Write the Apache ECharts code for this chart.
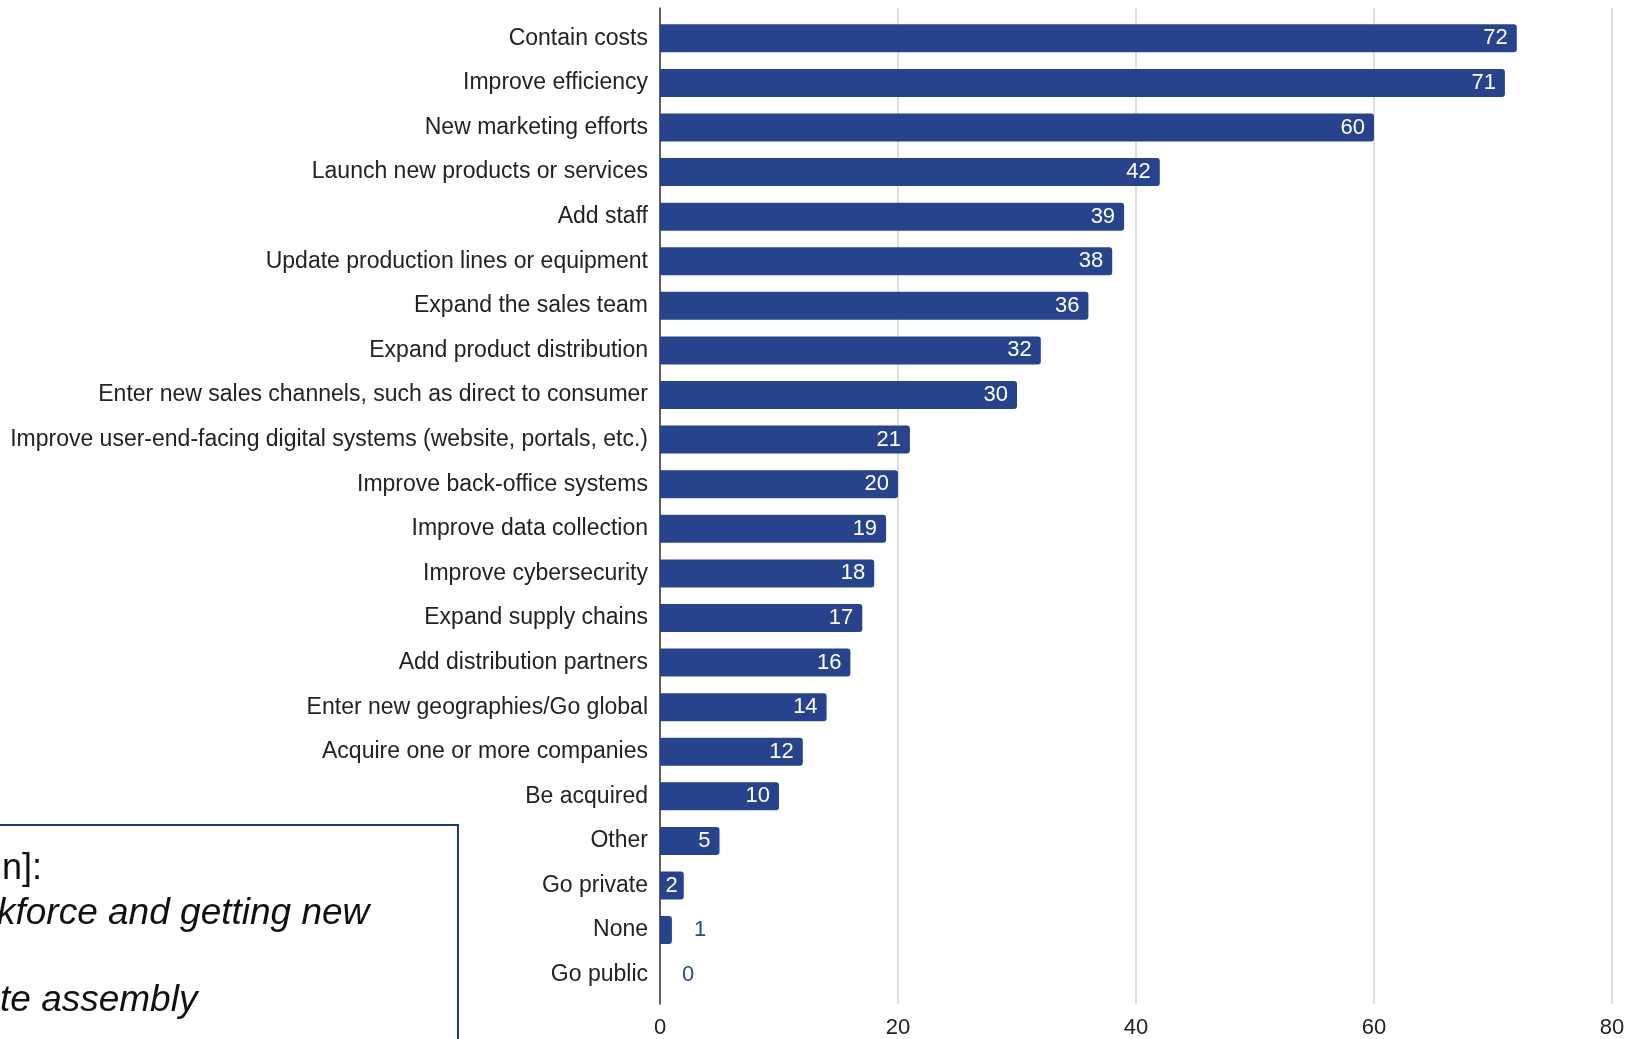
<!DOCTYPE html>
<html>
<head>
<meta charset="utf-8">
<style>
  html, body { margin: 0; padding: 0; background: #ffffff; }
  #chart { width: 1640px; height: 1039px; }
</style>
<script src="https://cdn.jsdelivr.net/npm/echarts@6/dist/echarts.min.js"></script>
</head>
<body>
<div id="chart"></div>
<script>
// Planned business actions, ranked by share of respondents
const categories = [
  'Contain costs',
  'Improve efficiency',
  'New marketing efforts',
  'Launch new products or services',
  'Add staff',
  'Update production lines or equipment',
  'Expand the sales team',
  'Expand product distribution',
  'Enter new sales channels, such as direct to consumer',
  'Improve user-end-facing digital systems (website, portals, etc.)',
  'Improve back-office systems',
  'Improve data collection',
  'Improve cybersecurity',
  'Expand supply chains',
  'Add distribution partners',
  'Enter new geographies/Go global',
  'Acquire one or more companies',
  'Be acquired',
  'Other',
  'Go private',
  'None',
  'Go public'
];
const values = [72, 71, 60, 42, 39, 38, 36, 32, 30, 21, 20, 19, 18, 17, 16, 14, 12, 10, 5, 2, 1, 0];
const xTicks = [0, 20, 40, 60, 80];

const noteLines = ['n]:', 'kforce and getting new', 'te assembly'];

const BAR = '#26438b';
const FONT = '"Liberation Sans", Arial, Helvetica, sans-serif';

// Tiny bars can't hold their number, so it goes just past the bar end
const seriesData = values.map(v => {
  if (v < 2) {
    return {
      value: v,
      label: { position: 'right', color: '#2b4a8c', distance: 22 }
    };
  }
  return { value: v, label: v < 5 ? { distance: 6 } : {} };
});

const xRange = { min: xTicks[0], max: xTicks[xTicks.length - 1], interval: 20 };

const chart = echarts.init(document.getElementById('chart'), null, { renderer: 'canvas' });

chart.setOption({
  backgroundColor: '#ffffff',
  animation: false,
  // grid 0: frame with gridlines, baseline and tick labels (a little taller than the bars)
  // grid 1: the category bands holding the bars
  grid: [
    { left: 660, right: 28, top: 8, bottom: 34, containLabel: false },
    { left: 660, right: 28, top: 16, bottom: 42, containLabel: false }
  ],
  xAxis: [
    {
      gridIndex: 0,
      type: 'value',
      ...xRange,
      axisLine: { show: false },
      axisTick: { show: false },
      splitLine: { show: true, lineStyle: { color: '#d3d3d3', width: 1.5 } },
      axisLabel: {
        margin: 13,
        color: '#222222',
        fontFamily: FONT,
        fontSize: 22
      }
    },
    {
      gridIndex: 1,
      type: 'value',
      ...xRange,
      show: false
    }
  ],
  yAxis: [
    {
      gridIndex: 0,
      type: 'value',
      min: 0,
      max: 1,
      axisLine: { show: true, lineStyle: { color: '#333333', width: 1.5 } },
      axisTick: { show: false },
      axisLabel: { show: false },
      splitLine: { show: false }
    },
    {
      gridIndex: 1,
      type: 'category',
      inverse: true,
      data: categories,
      axisLine: { show: false },
      axisTick: { show: false },
      axisLabel: {
        margin: 12,
        color: '#222222',
        fontFamily: FONT,
        fontSize: 23
      }
    }
  ],
  series: [{
    type: 'bar',
    xAxisIndex: 1,
    yAxisIndex: 1,
    data: seriesData,
    barWidth: 28,
    z: 3,
    itemStyle: { color: BAR, borderRadius: [0, 3, 3, 0] },
    label: {
      show: true,
      position: 'insideRight',
      distance: 9,
      color: '#ffffff',
      fontFamily: FONT,
      fontSize: 22
    }
  }],
  graphic: [
    {
      type: 'rect',
      shape: { x: -10, y: 825, width: 468, height: 260 },
      style: { fill: '#ffffff', stroke: '#1f3a70', lineWidth: 2 },
      z: 10
    },
    {
      type: 'text',
      x: 2,
      y: 851,
      style: { text: noteLines[0], font: '36px ' + FONT, fill: '#111111' },
      z: 11
    },
    {
      type: 'text',
      x: -3,
      y: 895,
      style: { text: noteLines[1], font: 'italic 37px ' + FONT, fill: '#111111' },
      z: 11
    },
    {
      type: 'text',
      x: 0,
      y: 982,
      style: { text: noteLines[2], font: 'italic 37px ' + FONT, fill: '#111111' },
      z: 11
    }
  ]
});
</script>
</body>
</html>
